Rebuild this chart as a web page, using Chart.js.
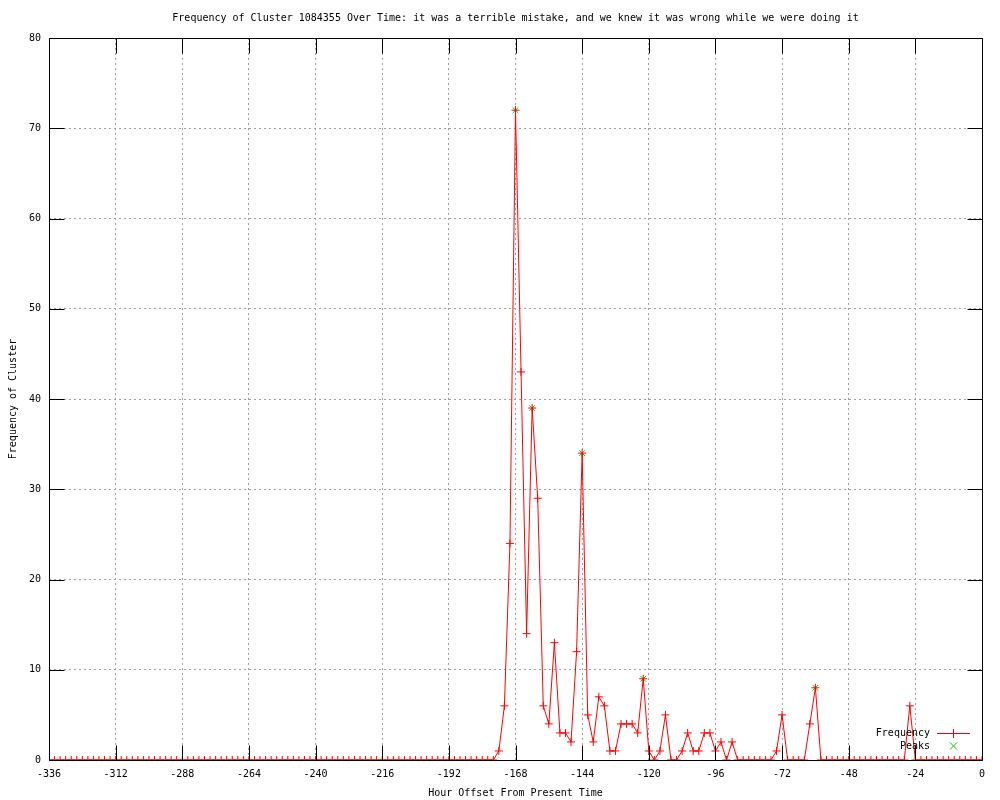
<!DOCTYPE html>
<html>
<head>
<meta charset="utf-8">
<script src="https://cdn.jsdelivr.net/npm/chart.js@4/dist/chart.umd.min.js"></script>
<style>
  html, body { margin:0; padding:0; background:#fff; }
  #plot { display:block; }
</style>
</head>
<body>
<canvas id="plot" width="1000" height="800"></canvas>
<script>
const titleText = 'Frequency of Cluster 1084355 Over Time: it was a terrible mistake, and we knew it was wrong while we were doing it';
const xLabel = 'Hour Offset From Present Time';
const yLabel = 'Frequency of Cluster';

// one sample every 2 hours, one row = 24 hours
const hours = [
  -336,-334,-332,-330,-328,-326,-324,-322,-320,-318,-316,-314,
  -312,-310,-308,-306,-304,-302,-300,-298,-296,-294,-292,-290,
  -288,-286,-284,-282,-280,-278,-276,-274,-272,-270,-268,-266,
  -264,-262,-260,-258,-256,-254,-252,-250,-248,-246,-244,-242,
  -240,-238,-236,-234,-232,-230,-228,-226,-224,-222,-220,-218,
  -216,-214,-212,-210,-208,-206,-204,-202,-200,-198,-196,-194,
  -192,-190,-188,-186,-184,-182,-180,-178,-176,-174,-172,-170,
  -168,-166,-164,-162,-160,-158,-156,-154,-152,-150,-148,-146,
  -144,-142,-140,-138,-136,-134,-132,-130,-128,-126,-124,-122,
  -120,-118,-116,-114,-112,-110,-108,-106,-104,-102,-100,-98,
  -96,-94,-92,-90,-88,-86,-84,-82,-80,-78,-76,-74,
  -72,-70,-68,-66,-64,-62,-60,-58,-56,-54,-52,-50,
  -48,-46,-44,-42,-40,-38,-36,-34,-32,-30,-28,-26,
  -24,-22,-20,-18,-16,-14,-12,-10,-8,-6,-4,-2,
  0
];
const frequency = [
  0,0,0,0,0,0,0,0,0,0,0,0,
  0,0,0,0,0,0,0,0,0,0,0,0,
  0,0,0,0,0,0,0,0,0,0,0,0,
  0,0,0,0,0,0,0,0,0,0,0,0,
  0,0,0,0,0,0,0,0,0,0,0,0,
  0,0,0,0,0,0,0,0,0,0,0,0,
  0,0,0,0,0,0,0,0,0,1,6,24,
  72,43,14,39,29,6,4,13,3,3,2,12,
  34,5,2,7,6,1,1,4,4,4,3,9,
  1,0,1,5,0,0,1,3,1,1,3,3,
  1,2,0,2,0,0,0,0,0,0,0,1,
  5,0,0,0,0,4,8,0,0,0,0,0,
  0,0,0,0,0,0,0,0,0,0,0,6,
  0,0,0,0,0,0,0,0,0,0,0,0,
  0
];
const peakHours = [-168, -162, -144, -122, -60];
const peakValues = [72, 39, 34, 9, 8];

const xMin = -336, xMax = 0, xStep = 24;
const yMin = 0, yMax = 80, yStep = 10;

const RED = 'rgb(255,0,0)', GREEN = 'rgb(0,192,0)', GRID = '#a0a0a0';
const FONT = { family: '"DejaVu Sans Mono", "Liberation Mono", monospace', size: 10 };
const fontStr = '10px "DejaVu Sans Mono", "Liberation Mono", monospace';

const freqPts = hours.map((h, i) => ({ x: h, y: frequency[i] }));
const peakPts = peakHours.map((h, i) => ({ x: h, y: peakValues[i] }));

// frame, inward ticks, title and key drawn like gnuplot
const gnuFrame = {
  id: 'gnuFrame',
  afterDraw(chart) {
    const { ctx, chartArea: a, scales } = chart;
    const L = Math.round(a.left) + 0.5, R = Math.round(a.right) + 0.5;
    const T = Math.round(a.top) + 0.5, B = Math.round(a.bottom) + 0.5;
    ctx.save();
    ctx.strokeStyle = '#000';
    ctx.lineWidth = 1;
    ctx.setLineDash([]);
    ctx.beginPath();
    ctx.rect(L, T, R - L, B - T);
    const tl = 15;
    scales.x.ticks.forEach(t => {
      const px = Math.round(scales.x.getPixelForValue(t.value)) + 0.5;
      ctx.moveTo(px, B); ctx.lineTo(px, B - tl);
      ctx.moveTo(px, T); ctx.lineTo(px, T + tl);
    });
    scales.y.ticks.forEach(t => {
      const py = Math.round(scales.y.getPixelForValue(t.value)) + 0.5;
      ctx.moveTo(L, py); ctx.lineTo(L + tl, py);
      ctx.moveTo(R, py); ctx.lineTo(R - tl, py);
    });
    ctx.stroke();

    ctx.fillStyle = '#000';
    ctx.font = fontStr;
    ctx.textBaseline = 'middle';
    ctx.textAlign = 'center';
    ctx.fillText(titleText, (a.left + a.right) / 2, 18);

    // key
    ctx.textAlign = 'right';
    const kx = 930, ky1 = 733, ky2 = 746;
    ctx.fillText('Frequency', kx, ky1);
    ctx.fillText('Peaks', kx, ky2);
    ctx.restore();

    ctx.save();
    ctx.lineWidth = 1;
    ctx.strokeStyle = RED;
    ctx.beginPath();
    ctx.moveTo(937, ky1 + 0.5); ctx.lineTo(970, ky1 + 0.5);
    ctx.moveTo(953.5, ky1 - 4); ctx.lineTo(953.5, ky1 + 5);
    ctx.stroke();
    ctx.strokeStyle = GREEN;
    ctx.beginPath();
    ctx.moveTo(950, ky2 - 3.5); ctx.lineTo(957, ky2 + 3.5);
    ctx.moveTo(957, ky2 - 3.5); ctx.lineTo(950, ky2 + 3.5);
    ctx.stroke();
    ctx.restore();
  }
};

new Chart(document.getElementById('plot'), {
  type: 'line',
  data: {
    datasets: [
      {
        label: 'Frequency', data: freqPts,
        borderColor: RED, backgroundColor: RED, borderWidth: 1,
        pointStyle: 'cross', pointRadius: 4, pointBorderWidth: 1,
        pointBorderColor: RED, tension: 0, fill: false, order: 0
      },
      {
        label: 'Peaks', data: peakPts, showLine: false,
        borderColor: GREEN, backgroundColor: GREEN,
        pointStyle: 'crossRot', pointRadius: 4, pointBorderWidth: 1,
        pointBorderColor: GREEN, order: 1
      }
    ]
  },
  options: {
    responsive: false,
    animation: false,
    devicePixelRatio: 1,
    layout: { padding: { top: 38, right: 18, left: 0, bottom: 0 } },
    plugins: { legend: { display: false }, tooltip: { enabled: false }, title: { display: false } },
    scales: {
      x: {
        type: 'linear', min: xMin, max: xMax,
        afterFit(s) { s.height = 40; },
        ticks: { stepSize: xStep, color: '#000', font: FONT, padding: 8, maxRotation: 0, autoSkip: false },
        grid: { color: GRID, lineWidth: 1, drawTicks: false },
        border: { display: false, dash: [2, 3] },
        title: { display: true, text: xLabel, color: '#000', font: FONT, padding: { top: 0, bottom: 1 } }
      },
      y: {
        type: 'linear', min: yMin, max: yMax,
        afterFit(s) { s.width = 49; },
        ticks: { stepSize: yStep, color: '#000', font: FONT, padding: 8 },
        grid: { color: GRID, lineWidth: 1, drawTicks: false },
        border: { display: false, dash: [2, 3] },
        title: { display: true, text: yLabel, color: '#000', font: FONT, padding: { top: 7, bottom: 0 } }
      }
    }
  },
  plugins: [gnuFrame]
});
</script>
</body>
</html>
